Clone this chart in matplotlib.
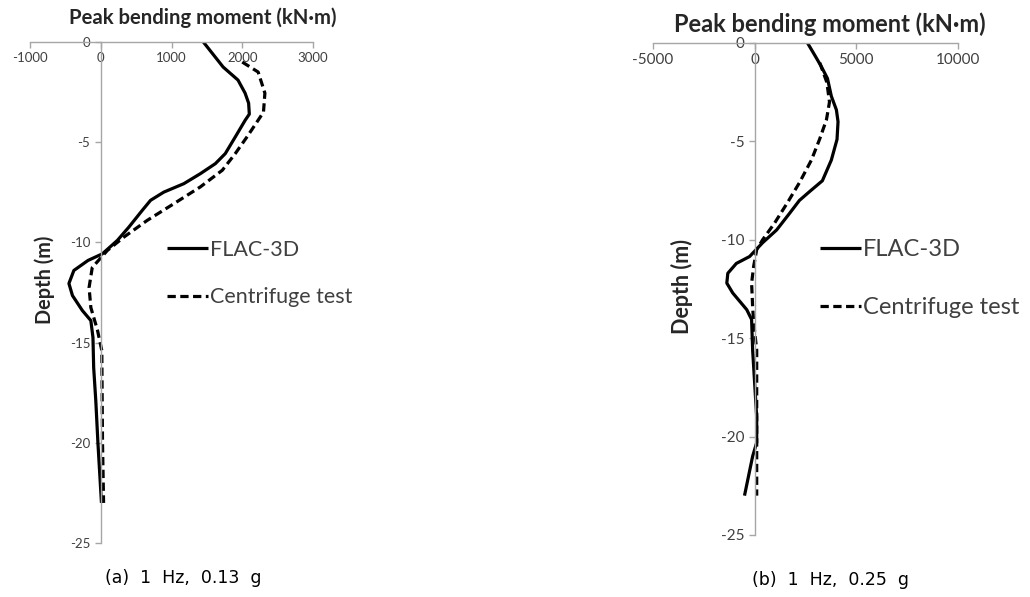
import numpy as np
import matplotlib.pyplot as plt

plt.rcParams["axes.unicode_minus"] = False

# =====================================================
# DATA
# =====================================================

# (a) 1 Hz, 0.13 g
a_flac_moment = [1450, 1730, 1940, 2040, 2090, 2100, 2042, 1901, 1760, 1620,
                 1408, 1174, 892, 704, 587, 399, 235, 23, -180, -380,
                 -450, -400, -260, -140, -110, -100, -70, -40, 10]
a_flac_depth = [0, -1.25, -1.9, -2.55, -3.05, -3.6, -3.9, -4.74, -5.57, -6.07,
                -6.57, -7.07, -7.49, -7.9, -8.4, -9.23, -9.9, -10.57, -10.9, -11.4,
                -12.05, -12.65, -13.4, -13.9, -14.75, -16.25, -17.9, -20, -23]

a_test_moment = [2000, 2225, 2320, 2300, 2225, 2066, 1901, 1718, 1408, 1033,
                 657, 329, 94, -120, -165, -140, -45, 15, 25, 40]
a_test_depth = [-1.0, -1.5, -2.55, -3.5, -3.9, -4.74, -5.57, -6.4, -7.23, -8.07,
                -8.9, -9.73, -10.4, -11.25, -12.25, -13.25, -14.4, -15.4, -20, -23]

# (b) 1 Hz, 0.25 g
b_flac_moment = [2600, 3000, 3280, 3580, 3770, 4020, 4100, 4050, 3770, 3330,
                 2700, 2200, 1720, 1080, 390, -250, -900, -1320, -1370, -1080,
                 -390, -150, -100, 0, 100, 100, -100, -500]
b_flac_depth = [0, -0.7, -1.2, -1.8, -2.7, -3.4, -4.0, -4.9, -5.95, -7.0,
                -7.55, -8.0, -8.65, -9.5, -10.15, -10.85, -11.2, -11.7, -12.2, -12.7,
                -13.55, -14.05, -15.6, -17.3, -19.0, -20.3, -21.0, -23.0]

b_test_moment = [3200, 3550, 3680, 3530, 3190, 2790, 2200, 1620, 980, 390,
                 100, -50, -150, -100, -50, 100, 100, 100]
b_test_depth = [-1.0, -2.0, -3.0, -3.9, -4.9, -5.95, -7.1, -8.1, -9.15, -10.0,
                -10.5, -11.35, -12.2, -13.4, -14.2, -15.6, -20.3, -23.0]

a_xticks = [-1000, 0, 1000, 2000, 3000]
b_xticks = [-5000, 0, 5000, 10000]
yticks = [0, -5, -10, -15, -20, -25]

legend_labels = ["FLAC-3D", "Centrifuge test"]
title = "Peak bending moment (kN\u00b7m)"
ylabel = "Depth (m)"
captions = ["(a)  1  Hz,  0.13  g", "(b)  1  Hz,  0.25  g"]

# =====================================================
# FIGURE
# =====================================================

W, H = 1030, 597
fig = plt.figure(figsize=(W / 100, H / 100), dpi=100)

GRAY = "#a6a6a6"
TXT = "#404040"
DARK = "#262626"


def px(x0, y0, x1, y1):
    return [x0 / W, 1 - y1 / H, (x1 - x0) / W, (y1 - y0) / H]


def setup(ax, xticks, tsize):
    ax.set_xlim(xticks[0], xticks[-1])
    ax.set_ylim(-25, 0)
    ax.set_xticks(xticks)
    ax.set_yticks(yticks)
    ax.spines["top"].set_visible(False)
    ax.spines["right"].set_visible(False)
    ax.spines["bottom"].set_position(("data", 0))
    ax.spines["left"].set_position(("data", 0))
    for s in ["bottom", "left"]:
        ax.spines[s].set_color(GRAY)
        ax.spines[s].set_linewidth(1.0)
    ax.tick_params(colors=GRAY, labelcolor=TXT, labelsize=tsize,
                   length=4, width=1.0, direction="out")
    for lab in ax.get_xticklabels() + ax.get_yticklabels():
        lab.set_family("Lato")
    ax.patch.set_alpha(0)


panels = [
    dict(rect=px(30, 42, 313, 543), xt=a_xticks,
         fm=a_flac_moment, fd=a_flac_depth, tm=a_test_moment, td=a_test_depth,
         tsize=9.5, leg=(167, 273.5), lsp=1.3, lfs=15.5,
         ylab=(45, 280), yfs=14.3, tit=(203, 18), tfs=14.6,
         cap=(183, 578), text=captions[0]),
    dict(rect=px(653, 43, 958, 535), xt=b_xticks,
         fm=b_flac_moment, fd=b_flac_depth, tm=b_test_moment, td=b_test_depth,
         tsize=11, leg=(820, 278.5), lsp=1.55, lfs=17,
         ylab=(682, 286), yfs=15.5, tit=(830, 24), tfs=17,
         cap=(830, 580), text=captions[1]),
]

for p in panels:

    ax = fig.add_axes(p["rect"])
    setup(ax, p["xt"], p["tsize"])

    l1, = ax.plot(p["fm"], p["fd"], color="black", lw=2.3,
                  solid_joinstyle="round", solid_capstyle="butt")
    l2, = ax.plot(p["tm"], p["td"], color="black", lw=2.3,
                  dashes=(2.6, 1.4), dash_capstyle="butt",
                  dash_joinstyle="round")

    ax.legend(
        [l1, l2],
        legend_labels,
        loc="center left",
        bbox_to_anchor=(p["leg"][0] / W, 1 - p["leg"][1] / H),
        bbox_transform=fig.transFigure,
        frameon=False,
        borderpad=0,
        borderaxespad=0,
        handlelength=41 / (p["lfs"] * 100 / 72),
        handletextpad=0.1,
        labelspacing=p["lsp"],
        prop={"family": "Lato", "size": p["lfs"]},
        labelcolor=TXT,
    )

    fig.text(p["ylab"][0] / W, 1 - p["ylab"][1] / H, ylabel,
             rotation=90, ha="center", va="center",
             family="Lato", weight="bold", size=p["yfs"], color=DARK)

    fig.text(p["tit"][0] / W, 1 - p["tit"][1] / H, title,
             ha="center", va="center",
             family="Lato", weight="bold", size=p["tfs"], color=DARK)

    fig.text(p["cap"][0] / W, 1 - p["cap"][1] / H, p["text"],
             ha="center", va="center",
             family="DejaVu Sans", size=12.5, color="black")

fig.savefig("out.png", dpi=100)
